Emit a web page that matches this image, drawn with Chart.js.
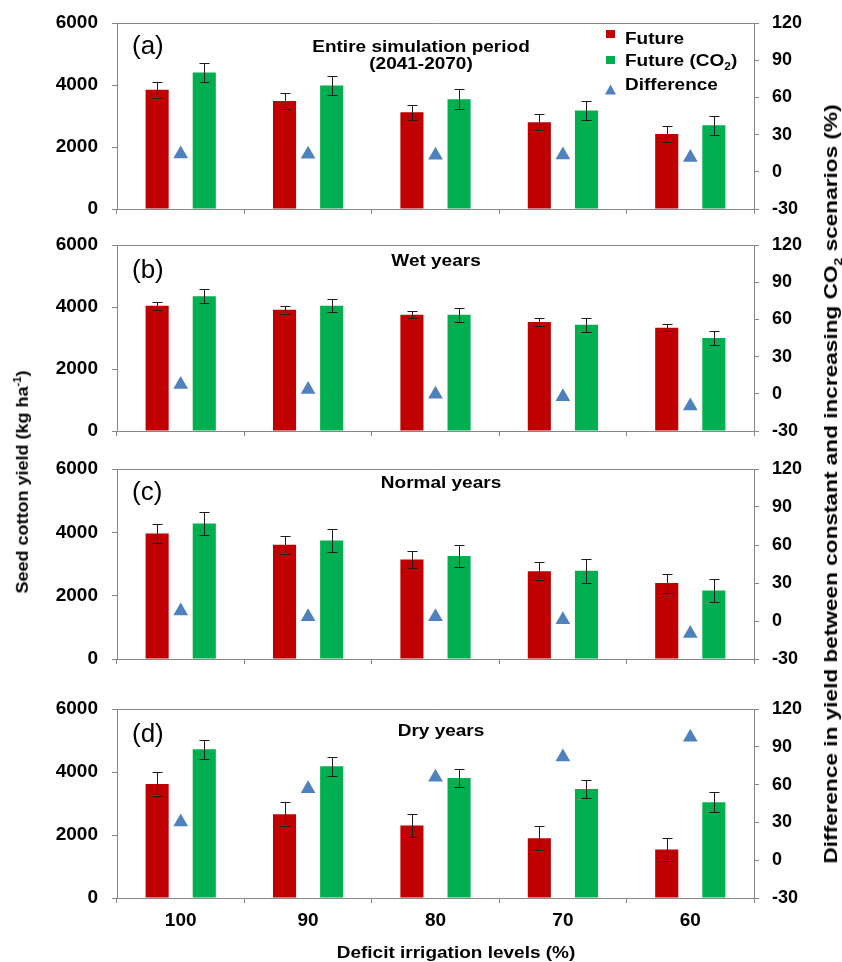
<!DOCTYPE html>
<html>
<head>
<meta charset="utf-8">
<script src="https://cdn.jsdelivr.net/npm/chart.js@4.4.1/dist/chart.umd.min.js"></script>
<style>
  body { margin: 0; background: #fff; }
  #fig { position: relative; width: 842px; height: 962px; overflow: hidden; font-family: "Liberation Sans", Arial, sans-serif; }
  #fig canvas { position: absolute; left: 0; }
  .vtitle { position: absolute; white-space: nowrap; font-weight: bold; color: #000; line-height: 1; }
  .vtitle sup, .vtitle sub { font-size: 0.62em; line-height: 0; }
</style>
</head>
<body>
<div id="fig">
  <canvas id="panelA" width="842" height="222" style="top:0px"></canvas>
  <canvas id="panelB" width="842" height="222" style="top:222px"></canvas>
  <canvas id="panelC" width="842" height="228" style="top:444px"></canvas>
  <canvas id="panelD" width="842" height="290" style="top:672px"></canvas>
  <div class="vtitle" style="left:22px; top:482px; font-size:18px; transform:translate(-50%,-50%) rotate(-90deg) scaleY(0.92);">Seed cotton yield (kg ha<sup>-1</sup>)</div>
  <div class="vtitle" style="left:831px; top:484px; font-size:19px; transform:translate(-50%,-50%) rotate(-90deg) scale(1.19,0.95);">Difference in yield between constant and increasing CO<sub>2</sub> scenarios (%)</div>
</div>
<script>
// Deficit irrigation levels (%)
const categories = ['100', '90', '80', '70', '60'];
const seriesNames = ['Future', 'Future (CO\u2082)', 'Difference'];
const yieldTicks = [0, 2000, 4000, 6000];
const diffTicks = [-30, 0, 30, 60, 90, 120];

// (a) Entire simulation period (2041-2070)
const futureEntire = [3850, 3480, 3120, 2800, 2420];
const futureCO2Entire = [4400, 3980, 3540, 3180, 2700];
const errFutureEntire = [260, 250, 250, 250, 250];
const errCO2Entire = [300, 300, 320, 320, 310];
const diffEntire = [14.3, 14.2, 13.4, 13.6, 11.5];

// (b) Wet years
const futureWet = [4040, 3910, 3750, 3520, 3330];
const futureCO2Wet = [4350, 4040, 3750, 3430, 3000];
const errFutureWet = [130, 120, 120, 120, 120];
const errCO2Wet = [230, 210, 230, 230, 230];
const diffWet = [7.5, 3.4, -0.3, -2.4, -9.8];

// (c) Normal years
const futureNormal = [3960, 3610, 3140, 2770, 2400];
const futureCO2Normal = [4280, 3740, 3250, 2790, 2160];
const errFutureNormal = [300, 290, 280, 280, 300];
const errCO2Normal = [370, 370, 360, 380, 360];
const diffNormal = [7.8, 3.4, 3.3, 1.0, -9.8];

// (d) Dry years
const futureDry = [3620, 2660, 2300, 1900, 1540];
const futureCO2Dry = [4720, 4180, 3810, 3460, 3040];
const errFutureDry = [370, 380, 370, 380, 360];
const errCO2Dry = [310, 310, 300, 300, 310];
const diffDry = [30.4, 56.8, 65.8, 81.9, 97.6];

const axisGrey = '#878787';
const redFill = '#C00000';
const greenFill = '#00B050';
const triFill = '#4F81BD';
const FONT = '"Liberation Sans", Arial, sans-serif';
const TEXT_SQUASH = 0.9;   // slightly flattened lettering for in-plot text

// Vertical error bars with caps, placed on each bar via the bar's own y scale
const errorBarPlugin = {
  id: 'errorBars',
  afterDatasetsDraw(chart) {
    const ctx = chart.ctx;
    ctx.save();
    ctx.strokeStyle = '#1c1c1c';
    ctx.lineWidth = 1;
    chart.data.datasets.forEach((ds, i) => {
      if (!ds.errors) return;
      const meta = chart.getDatasetMeta(i);
      const ys = chart.scales[meta.yAxisID];
      meta.data.forEach((bar, j) => {
        const v = ds.data[j], e = ds.errors[j];
        const x = Math.round(bar.x) + 0.5;
        const yt = Math.round(ys.getPixelForValue(v + e)) + 0.5;
        const yb = Math.round(ys.getPixelForValue(v - e)) + 0.5;
        ctx.beginPath();
        ctx.moveTo(x, yt); ctx.lineTo(x, yb);
        ctx.moveTo(x - 5, yt); ctx.lineTo(x + 5, yt);
        ctx.moveTo(x - 5, yb); ctx.lineTo(x + 5, yb);
        ctx.stroke();
      });
    });
    ctx.restore();
  }
};

// Text drawn on its baseline with a slight vertical squash
function squashText(ctx, text, x, y) {
  ctx.save();
  ctx.translate(x, y);
  ctx.scale(1, TEXT_SQUASH);
  ctx.fillText(text, 0, 0);
  ctx.restore();
}

// Text with a subscript "2" (for CO2)
function fillSubText(ctx, text, x, y, size) {
  const parts = text.split('\u2082');
  let cx = x;
  parts.forEach((p, k) => {
    ctx.font = 'bold ' + size + 'px ' + FONT;
    squashText(ctx, p, cx, y);
    cx += ctx.measureText(p).width;
    if (k < parts.length - 1) {
      ctx.font = 'bold ' + Math.round(size * 0.62) + 'px ' + FONT;
      squashText(ctx, '2', cx, y + 4);
      cx += ctx.measureText('2').width;
    }
  });
}

function drawLegend(chart) {
  const ctx = chart.ctx;
  const ds = chart.data.datasets;
  ctx.textAlign = 'left';
  ctx.textBaseline = 'alphabetic';
  ctx.fillStyle = ds[0].backgroundColor;
  ctx.fillRect(606, 30, 9, 8);
  ctx.fillStyle = '#000';
  fillSubText(ctx, ds[0].label, 625, 43.5, 19);
  ctx.fillStyle = ds[1].backgroundColor;
  ctx.fillRect(606, 56, 9, 8);
  ctx.fillStyle = '#000';
  fillSubText(ctx, ds[1].label, 625, 66, 19);
  ctx.fillStyle = ds[2].pointBackgroundColor;
  ctx.beginPath();
  ctx.moveTo(610.5, 84.5); ctx.lineTo(616, 94.5); ctx.lineTo(605, 94.5);
  ctx.closePath(); ctx.fill();
  ctx.fillStyle = '#000';
  fillSubText(ctx, ds[2].label, 625, 89.5, 19);
}

// Frame top edge, panel letter, panel title, legend and x-axis title
const panelDecor = {
  id: 'panelDecor',
  afterDraw(chart, args, o) {
    const ctx = chart.ctx;
    const a = chart.chartArea;
    ctx.save();
    ctx.strokeStyle = axisGrey;
    ctx.lineWidth = 1;
    ctx.beginPath();
    ctx.moveTo(a.left, Math.round(a.top) + 0.5);
    ctx.lineTo(a.right + 0.5, Math.round(a.top) + 0.5);
    ctx.stroke();

    ctx.fillStyle = '#000';
    ctx.font = '26px ' + FONT;
    ctx.textAlign = 'left';
    ctx.textBaseline = 'middle';
    ctx.fillText(o.letter, 132, o.letterY);

    ctx.font = 'bold 19px ' + FONT;
    ctx.textAlign = 'center';
    ctx.textBaseline = 'alphabetic';
    o.title.forEach((t, k) => squashText(ctx, t, o.titleX, o.titleY[k]));

    if (o.legend) drawLegend(chart);

    if (o.xTitle) {
      ctx.font = 'bold 19px ' + FONT;
      ctx.textAlign = 'center';
      ctx.textBaseline = 'alphabetic';
      squashText(ctx, o.xTitle, 456, o.xTitleY);
    }
    ctx.restore();
  }
};

function makePanel(id, future, futureCO2, errFuture, errCO2, diff, decor, lay) {
  const tickFont = (size) => ({ family: FONT, size: size, weight: 'bold' });
  // fixed axis widths; end-label overhang is left outside the plot frame
  const fixWidth = (w) => (s) => { s.width = w; s.paddingTop = 0; s.paddingBottom = 0; };
  return new Chart(document.getElementById(id), {
    type: 'bar',
    data: {
      labels: categories,
      datasets: [
        { label: seriesNames[0], data: future, errors: errFuture, backgroundColor: redFill,
          yAxisID: 'y', categoryPercentage: 0.74, barPercentage: 0.49, order: 2 },
        { label: seriesNames[1], data: futureCO2, errors: errCO2, backgroundColor: greenFill,
          yAxisID: 'y', categoryPercentage: 0.74, barPercentage: 0.49, order: 2 },
        { type: 'line', label: seriesNames[2], data: diff, yAxisID: 'y1', showLine: false,
          pointStyle: 'triangle', pointRadius: 8.5, pointHoverRadius: 8.5,
          pointBackgroundColor: triFill, pointBorderColor: triFill, pointBorderWidth: 0,
          borderColor: triFill, order: 1 }
      ]
    },
    options: {
      responsive: false,
      animation: false,
      devicePixelRatio: 1,
      events: [],
      layout: { padding: { top: lay.top, left: 0, right: 0, bottom: 0 } },
      plugins: { legend: { display: false }, tooltip: { enabled: false }, panelDecor: decor },
      scales: {
        x: {
          offset: true,
          grid: { display: true, drawOnChartArea: false, drawTicks: true, tickLength: 5, color: axisGrey, offset: true },
          border: { display: true, color: axisGrey },
          ticks: { display: lay.xLabels, color: '#000', font: tickFont(19), padding: 6, maxRotation: 0 },
          afterFit: (s) => { s.height = lay.xHeight; }
        },
        y: {
          position: 'left',
          min: yieldTicks[0], max: yieldTicks[yieldTicks.length - 1],
          ticks: { stepSize: yieldTicks[1] - yieldTicks[0], color: '#000', font: tickFont(19), padding: 14,
                   callback: (v) => String(v) },
          grid: { drawOnChartArea: false, drawTicks: true, tickLength: 5, color: axisGrey },
          border: { display: true, color: axisGrey },
          afterFit: fixWidth(117)
        },
        y1: {
          position: 'right',
          min: diffTicks[0], max: diffTicks[diffTicks.length - 1],
          ticks: { stepSize: diffTicks[1] - diffTicks[0], color: '#000', font: tickFont(18), padding: 13,
                   callback: (v) => String(v) },
          grid: { drawOnChartArea: false, drawTicks: true, tickLength: 5, color: axisGrey },
          border: { display: true, color: axisGrey },
          afterFit: fixWidth(88)
        }
      }
    },
    plugins: [errorBarPlugin, panelDecor]
  });
}

makePanel('panelA', futureEntire, futureCO2Entire, errFutureEntire, errCO2Entire, diffEntire,
  { letter: '(a)', letterY: 47, title: ['Entire simulation period', '(2041-2070)'], titleX: 421, titleY: [52, 69], legend: true },
  { top: 23, xHeight: 13, xLabels: false });

makePanel('panelB', futureWet, futureCO2Wet, errFutureWet, errCO2Wet, diffWet,
  { letter: '(b)', letterY: 49, title: ['Wet years'], titleX: 436, titleY: [44] },
  { top: 23, xHeight: 13, xLabels: false });

makePanel('panelC', futureNormal, futureCO2Normal, errFutureNormal, errCO2Normal, diffNormal,
  { letter: '(c)', letterY: 49, title: ['Normal years'], titleX: 441, titleY: [44] },
  { top: 25, xHeight: 13, xLabels: false });

makePanel('panelD', futureDry, futureCO2Dry, errFutureDry, errCO2Dry, diffDry,
  { letter: '(d)', letterY: 63, title: ['Dry years'], titleX: 441, titleY: [64],
    xTitle: 'Deficit irrigation levels (%)', xTitleY: 286 },
  { top: 37, xHeight: 64, xLabels: true });
</script>
</body>
</html>
